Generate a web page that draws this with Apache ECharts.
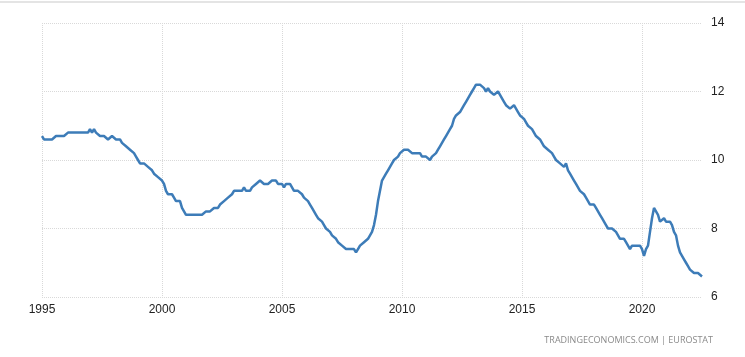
<!DOCTYPE html>
<html>
<head>
<meta charset="utf-8">
<script src="https://cdn.jsdelivr.net/npm/echarts@6/dist/echarts.min.js"></script>
<style>
html,body{margin:0;padding:0;background:#fff;}
#chart{width:745px;height:357px;}
</style>
</head>
<body>
<div id="chart"></div>
<script>
// Monthly unemployment rate (%), Jan 1995 .. Jul 2022
const startYear = 1995;
const y1995 = [10.7,10.6,10.6,10.6,10.6,10.6,10.6,10.7,10.7,10.7,10.7,10.7];
const y1996 = [10.7,10.8,10.8,10.8,10.8,10.8,10.8,10.8,10.8,10.8,10.8,10.8];
const y1997 = [10.9,10.8,10.9,10.8,10.8,10.7,10.7,10.7,10.7,10.6,10.6,10.7];
const y1998 = [10.7,10.6,10.6,10.6,10.5,10.5,10.4,10.4,10.3,10.3,10.2,10.1];
const y1999 = [10.0,9.9,9.9,9.9,9.9,9.8,9.8,9.7,9.6,9.6,9.5,9.5];
const y2000 = [9.4,9.3,9.1,9.0,9.0,9.0,8.9,8.8,8.8,8.8,8.6,8.5];
const y2001 = [8.4,8.4,8.4,8.4,8.4,8.4,8.4,8.4,8.4,8.4,8.5,8.5];
const y2002 = [8.5,8.5,8.6,8.6,8.6,8.7,8.7,8.8,8.8,8.9,8.9,9.0];
const y2003 = [9.1,9.1,9.1,9.1,9.1,9.2,9.1,9.1,9.1,9.2,9.2,9.3];
const y2004 = [9.3,9.4,9.4,9.3,9.3,9.3,9.3,9.4,9.4,9.4,9.3,9.3];
const y2005 = [9.3,9.2,9.3,9.3,9.3,9.2,9.1,9.1,9.1,9.1,9.0,8.9];
const y2006 = [8.9,8.8,8.7,8.6,8.5,8.4,8.3,8.3,8.2,8.1,8.0,8.0];
const y2007 = [7.9,7.8,7.8,7.7,7.6,7.6,7.5,7.5,7.4,7.4,7.4,7.4];
const y2008 = [7.4,7.3,7.4,7.5,7.5,7.6,7.6,7.7,7.7,7.9,8.1,8.4];
const y2009 = [8.8,9.1,9.4,9.5,9.6,9.7,9.8,9.9,10.0,10.0,10.1,10.2];
const y2010 = [10.2,10.3,10.3,10.3,10.3,10.2,10.2,10.2,10.2,10.2,10.1,10.1];
const y2011 = [10.1,10.1,10.0,10.1,10.1,10.2,10.3,10.4,10.5,10.6,10.7,10.8];
const y2012 = [10.9,11.0,11.2,11.3,11.3,11.4,11.5,11.6,11.7,11.8,11.9,12.0];
const y2013 = [12.1,12.2,12.2,12.2,12.2,12.1,12.0,12.1,12.0,12.0,11.9,11.9];
const y2014 = [12.0,11.9,11.8,11.7,11.6,11.6,11.5,11.5,11.6,11.5,11.4,11.3];
const y2015 = [11.3,11.2,11.1,11.0,11.0,10.9,10.8,10.7,10.7,10.6,10.5,10.4];
const y2016 = [10.4,10.3,10.3,10.2,10.1,10.0,10.0,9.9,9.9,9.8,9.9,9.7];
const y2017 = [9.6,9.5,9.4,9.3,9.2,9.1,9.1,9.0,8.9,8.8,8.7,8.7];
const y2018 = [8.7,8.6,8.5,8.4,8.3,8.2,8.1,8.0,8.0,8.0,8.0,7.9];
const y2019 = [7.8,7.7,7.7,7.7,7.6,7.5,7.4,7.5,7.5,7.5,7.5,7.5];
const y2020 = [7.4,7.2,7.4,7.5,7.9,8.3,8.6,8.6,8.4,8.2,8.2,8.3];
const y2021 = [8.2,8.2,8.2,8.1,7.9,7.8,7.5,7.3,7.2,7.1,7.0,6.9];
const y2022 = [6.8,6.8,6.7,6.7,6.7,6.7,6.6];

const values = [].concat(y1995,y1996,y1997,y1998,y1999,y2000,y2001,y2002,y2003,y2004,
  y2005,y2006,y2007,y2008,y2009,y2010,y2011,y2012,y2013,y2014,y2015,y2016,y2017,
  y2018,y2019,y2020,y2021,y2022);

const tickYears = ['1995','2000','2005','2010','2015','2020'];
const yTicks = [6, 8, 10, 12, 14];
const sourceText = 'TRADINGECONOMICS.COM | EUROSTAT';

const categories = values.map((v, i) => {
  const y = startYear + Math.floor(i / 12);
  const m = (i % 12) + 1;
  return y + '-' + (m < 10 ? '0' + m : m);
});
const isTick = (i) => {
  const c = categories[i];
  return c.slice(5) === '01' && tickYears.indexOf(c.slice(0, 4)) >= 0;
};

const chart = echarts.init(document.getElementById('chart'), null, {renderer: 'canvas'});
chart.setOption({
  animation: false,
  backgroundColor: '#ffffff',
  grid: {left: 42, right: 43, top: 23, bottom: 60, containLabel: false},
  xAxis: {
    type: 'category',
    data: categories,
    boundaryGap: false,
    axisLine: {show: false},
    axisTick: {show: false},
    axisLabel: {
      interval: (i) => isTick(i),
      formatter: (v) => v.slice(0, 4),
      color: '#222',
      fontFamily: 'Liberation Sans, Arial, sans-serif',
      fontSize: 12,
      margin: 7
    },
    splitLine: {
      show: true,
      interval: (i) => isTick(i),
      lineStyle: {color: '#d9d9d9', type: [1, 1], width: 1}
    }
  },
  yAxis: {
    type: 'value',
    position: 'right',
    min: yTicks[0],
    max: yTicks[yTicks.length - 1],
    interval: 2,
    axisLine: {show: false},
    axisTick: {show: false},
    axisLabel: {
      color: '#222',
      fontFamily: 'Liberation Sans, Arial, sans-serif',
      fontSize: 12,
      margin: 9
    },
    splitLine: {lineStyle: {color: '#d9d9d9', type: [1, 1], width: 1}}
  },
  series: [{
    type: 'line',
    data: values,
    showSymbol: false,
    symbol: 'none',
    lineStyle: {color: '#3d7cb8', width: 2.5},
    itemStyle: {color: '#3d7cb8'}
  }],
  graphic: [
    {type: 'rect', left: 0, top: 1, shape: {width: 745, height: 2}, style: {fill: '#e4e4e4'}},
    {type: 'text', right: 32, top: 336,
     style: {text: sourceText, fill: '#8a8a8a', font: '9px "Open Sans", "Liberation Sans", sans-serif'}}
  ]
});
</script>
</body>
</html>
